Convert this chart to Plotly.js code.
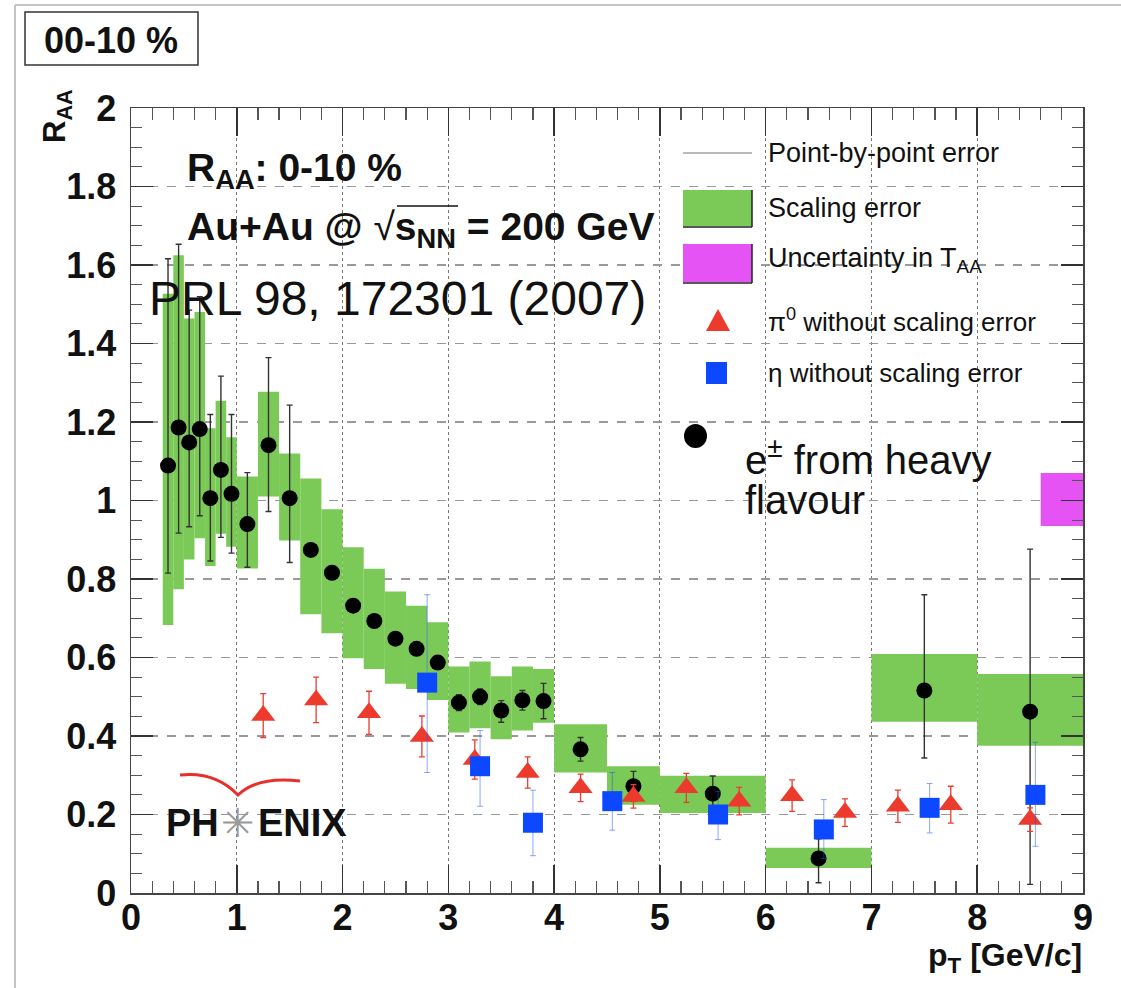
<!DOCTYPE html>
<html><head><meta charset="utf-8">
<script src="https://cdn.plot.ly/plotly-3.0.1.min.js"></script>
<style>html,body{margin:0;padding:0;background:#fff;} #chart{width:1121px;height:988px;}</style>
</head><body><div id="chart"></div>
<script>
// ---- e± from heavy flavour (points + point-by-point errors) ----
const hfX = [0.35,0.45,0.55,0.65,0.75,0.85,0.95,1.1,1.3,1.5,1.7,1.9,2.1,2.3,2.5,2.7,2.9,3.1,3.3,3.5,3.7,3.9,4.25,4.75,5.5,6.5,7.5,8.5];
const hfY = [1.089,1.186,1.148,1.182,1.006,1.078,1.017,0.940,1.141,1.006,0.874,0.816,0.732,0.693,0.648,0.622,0.587,0.485,0.500,0.465,0.491,0.489,0.366,0.272,0.253,0.088,0.516,0.462];
const hfErrUp = [0.527,0.467,0.337,0.337,0.213,0.239,0.202,0.131,0.223,0.237,0.012,0.012,0.012,0.012,0.012,0.012,0.012,0.020,0.020,0.025,0.025,0.045,0.030,0.038,0.045,0.050,0.244,0.414];
const hfErrDn = [0.274,0.269,0.215,0.221,0.160,0.172,0.151,0.110,0.169,0.164,0.012,0.012,0.012,0.012,0.012,0.012,0.012,0.020,0.020,0.030,0.025,0.045,0.030,0.038,0.050,0.062,0.172,0.440];

// ---- scaling error boxes (bins) ----
const binLo = [0.3,0.4,0.5,0.6,0.7,0.8,0.9,1.0,1.2,1.4,1.6,1.8,2.0,2.2,2.4,2.6,2.8,3.0,3.2,3.4,3.6,3.8,4.0,4.5,5.0,6.0,7.0,8.0];
const binHi = [0.4,0.5,0.6,0.7,0.8,0.9,1.0,1.2,1.4,1.6,1.8,2.0,2.2,2.4,2.6,2.8,3.0,3.2,3.4,3.6,3.8,4.0,4.5,5.0,6.0,7.0,8.0,9.0];
const scaleHi = [1.527,1.625,1.464,1.480,1.184,1.254,1.161,1.061,1.277,1.120,1.056,0.978,0.881,0.826,0.768,0.732,0.690,0.577,0.590,0.552,0.577,0.571,0.430,0.323,0.299,0.115,0.609,0.558];
const scaleLo = [0.683,0.774,0.850,0.904,0.833,0.915,0.882,0.827,1.010,0.898,0.710,0.662,0.598,0.571,0.533,0.520,0.492,0.409,0.420,0.392,0.414,0.434,0.307,0.225,0.204,0.064,0.436,0.375];

// ---- pi0 without scaling error ----
const pi0X = [1.25,1.75,2.25,2.75,3.25,3.75,4.25,4.75,5.25,5.75,6.25,6.75,7.25,7.75,8.5];
const pi0Y = [0.452,0.492,0.459,0.399,0.340,0.307,0.268,0.246,0.268,0.234,0.248,0.205,0.221,0.225,0.187];
const pi0Err = [0.056,0.058,0.055,0.052,0.050,0.040,0.035,0.030,0.037,0.035,0.040,0.035,0.041,0.047,0.030];

// ---- eta without scaling error ----
const etaX = [2.8,3.3,3.8,4.55,5.55,6.55,7.55,8.55];
const etaY = [0.536,0.323,0.179,0.234,0.200,0.162,0.217,0.250];
const etaErrUp = [0.224,0.091,0.083,0.073,0.059,0.076,0.062,0.134];
const etaErrDn = [0.229,0.102,0.084,0.074,0.064,0.074,0.064,0.131];

// ---- uncertainty in T_AA ----
const taaLo = [8.6], taaHi = [9.0], taaYLo = [0.935], taaYHi = [1.07];

// ---- texts ----
const xTicks = [0,1,2,3,4,5,6,7,8,9];
const yTicks = [0,0.2,0.4,0.6,0.8,1,1.2,1.4,1.6,1.8,2];
const legendTexts = ["Point-by-point error","Scaling error","Uncertainty in T<sub>AA</sub>","π<sup>0</sup> without scaling error","η without scaling error"];

const W=1121,H=988, ML=131, MR=38, MT=108, MB=95;
const PW=W-ML-MR, PH=H-MT-MB;
const px = p => (p-ML)/PW;
const py = p => (H-MB-p)/PH;

const FONT = "Liberation Sans, Arial, sans-serif";
const GREEN = "#7bca58", MAG = "#e653f5", RED = "#ec3b2d", BLUE = "#0b48ff";

const traces = [
  { type:'bar', x: binLo.map((l,i)=>(l+binHi[i])/2), width: binLo.map((l,i)=>binHi[i]-l),
    base: scaleLo, y: scaleHi.map((h,i)=>h-scaleLo[i]),
    marker:{color:GREEN, line:{width:0}}, hoverinfo:'skip', showlegend:false },
  { type:'bar', x: taaLo.map((l,i)=>(l+taaHi[i])/2), width: taaLo.map((l,i)=>taaHi[i]-l),
    base: taaYLo, y: taaYHi.map((h,i)=>h-taaYLo[i]),
    marker:{color:MAG, line:{width:0}}, hoverinfo:'skip', showlegend:false },
  { type:'scatter', mode:'markers', x: hfX, y: hfY,
    error_y:{type:'data', symmetric:false, array:hfErrUp, arrayminus:hfErrDn, color:'#333', thickness:1.4, width:3},
    marker:{color:'#000', size:16, symbol:'circle'}, showlegend:false },
  { type:'scatter', mode:'markers', x: pi0X, y: pi0Y,
    error_y:{type:'data', array:pi0Err, color:RED, thickness:1.3, width:3},
    marker:{color:RED, size:21, symbol:'triangle-up'}, showlegend:false },
  { type:'scatter', mode:'markers', x: etaX, y: etaY,
    error_y:{type:'data', symmetric:false, array:etaErrUp, arrayminus:etaErrDn, color:'rgba(30,80,255,0.5)', thickness:1, width:3},
    marker:{color:BLUE, size:20, symbol:'square'}, showlegend:false }
];

const shapes = [];
const annotations = [];
const line = (x0,y0,x1,y1,color,width) => shapes.push({type:'line', xref:'paper', yref:'paper', x0:px(x0), y0:py(y0), x1:px(x1), y1:py(y1), line:{color, width}});
const rect = (x0,y0,x1,y1,fill,lc,lw) => shapes.push({type:'rect', xref:'paper', yref:'paper', x0:px(x0), y0:py(y1), x1:px(x1), y1:py(y0), fillcolor:fill, line:{color:lc||fill, width:lw||0}});
const text = (t,x,y,size,opts={}) => annotations.push(Object.assign({text:t, xref:'paper', yref:'paper', x:px(x), y:py(y), showarrow:false, xanchor:'left', yanchor:'middle', font:{family:FONT, size, color:'#111'}}, opts));

// canvas frame
line(15,5,15,988,'#c4c4c4',2);
line(15,5,1121,5,'#c4c4c4',2);

// centrality box
rect(25,12,198,65,'rgba(0,0,0,0)','#333',1.5);
text('<b>00-10 %</b>',111,40,36,{xanchor:'center'});

// info texts
text('<b>R<sub>AA</sub>: 0-10 %</b>',185,170,39);
text('<b>Au+Au @ </b>√<b>s<sub>NN</sub> = 200 GeV</b>',185,230,39);
line(397,206,458,206,'#111',1.5);
text('PRL 98, 172301 (2007)',147,298,48);

// legend
line(683,153,752,153,'#777',1.2);
text(legendTexts[0],766,153,27);
rect(683,190,752,226,GREEN,GREEN,0);
line(752,190,752,227,'#222',1.5); line(683,227,752,227,'#222',1.5);
text(legendTexts[1],766,208,27);
rect(683,244,752,282,MAG,MAG,0);
line(752,244,752,283,'#222',1.5); line(683,283,752,283,'#222',1.5);
text(legendTexts[2],766,260,27);
shapes.push({type:'path', xref:'paper', yref:'paper', path:`M ${px(706)} ${py(331)} L ${px(730)} ${py(331)} L ${px(718)} ${py(309)} Z`, fillcolor:RED, line:{color:RED, width:0}});
text(legendTexts[3],766,320,26);
rect(706,362,727,384,BLUE,BLUE,0);
text(legendTexts[4],766,373,26);
shapes.push({type:'circle', xref:'paper', yref:'paper', x0:px(684), x1:px(707), y0:py(448), y1:py(424), fillcolor:'#000', line:{color:'#000',width:0}});
text('e<sup>±</sup> from heavy',743,457,40);
text('flavour',743,500,40);

// PHENIX logo
shapes.push({type:'path', xref:'paper', yref:'paper',
  path:`M ${px(180)} ${py(775)} Q ${px(215)} ${py(771)} ${px(238)} ${py(795)} Q ${px(258)} ${py(776)} ${px(300)} ${py(781)}`,
  line:{color:'#e8302a', width:3}});
text('<b>PH</b>',164,823,38);
text('✳',238,823,42,{xanchor:'center', font:{family:'DejaVu Sans', size:40, color:'#999'}});
text('<b>ENIX</b>',256,823,38);

// axis titles
text('<b>R<sub>AA</sub></b>',57,116,31,{xanchor:'center', textangle:-90});
text('<b>p<sub>T</sub> [GeV/c]</b>',1084,957,32,{xanchor:'right'});

const layout = {
  width:W, height:H, margin:{l:ML, r:MR, t:MT, b:MB, pad:0},
  paper_bgcolor:'#fff', plot_bgcolor:'#fff', barmode:'overlay', showlegend:false,
  xaxis:{range:[0,9], tickmode:'array', tickvals:xTicks, ticktext:xTicks.map(String),
    showline:true, linecolor:'#444', linewidth:1.5, mirror:'ticks',
    ticks:'inside', ticklen:28, tickwidth:1.5, tickcolor:'#333', ticklabelstandoff:-8,
    tickfont:{family:FONT, size:36, color:'#111', weight:'bold'},
    showgrid:true, gridcolor:'#777', griddash:'dot', gridwidth:1.2, zeroline:false,
    minor:{dtick:0.2, tick0:0, ticks:'inside', ticklen:12, tickwidth:1.2, tickcolor:'#555', showgrid:false}},
  yaxis:{range:[0,2], tickmode:'array', tickvals:yTicks, ticktext:yTicks.map(String),
    showline:true, linecolor:'#444', linewidth:1.5, mirror:'ticks',
    ticks:'inside', ticklen:22, tickwidth:1.5, tickcolor:'#333', ticklabelstandoff:6,
    tickfont:{family:FONT, size:36, color:'#111', weight:'bold'},
    showgrid:true, gridcolor:'#999', griddash:'dash', gridwidth:1.2, zeroline:false,
    minor:{dtick:0.05, tick0:0, ticks:'inside', ticklen:11, tickwidth:1.2, tickcolor:'#555', showgrid:false}},
  shapes, annotations
};
Plotly.newPlot('chart', traces, layout, {displayModeBar:false, staticPlot:true});
</script></body></html>
